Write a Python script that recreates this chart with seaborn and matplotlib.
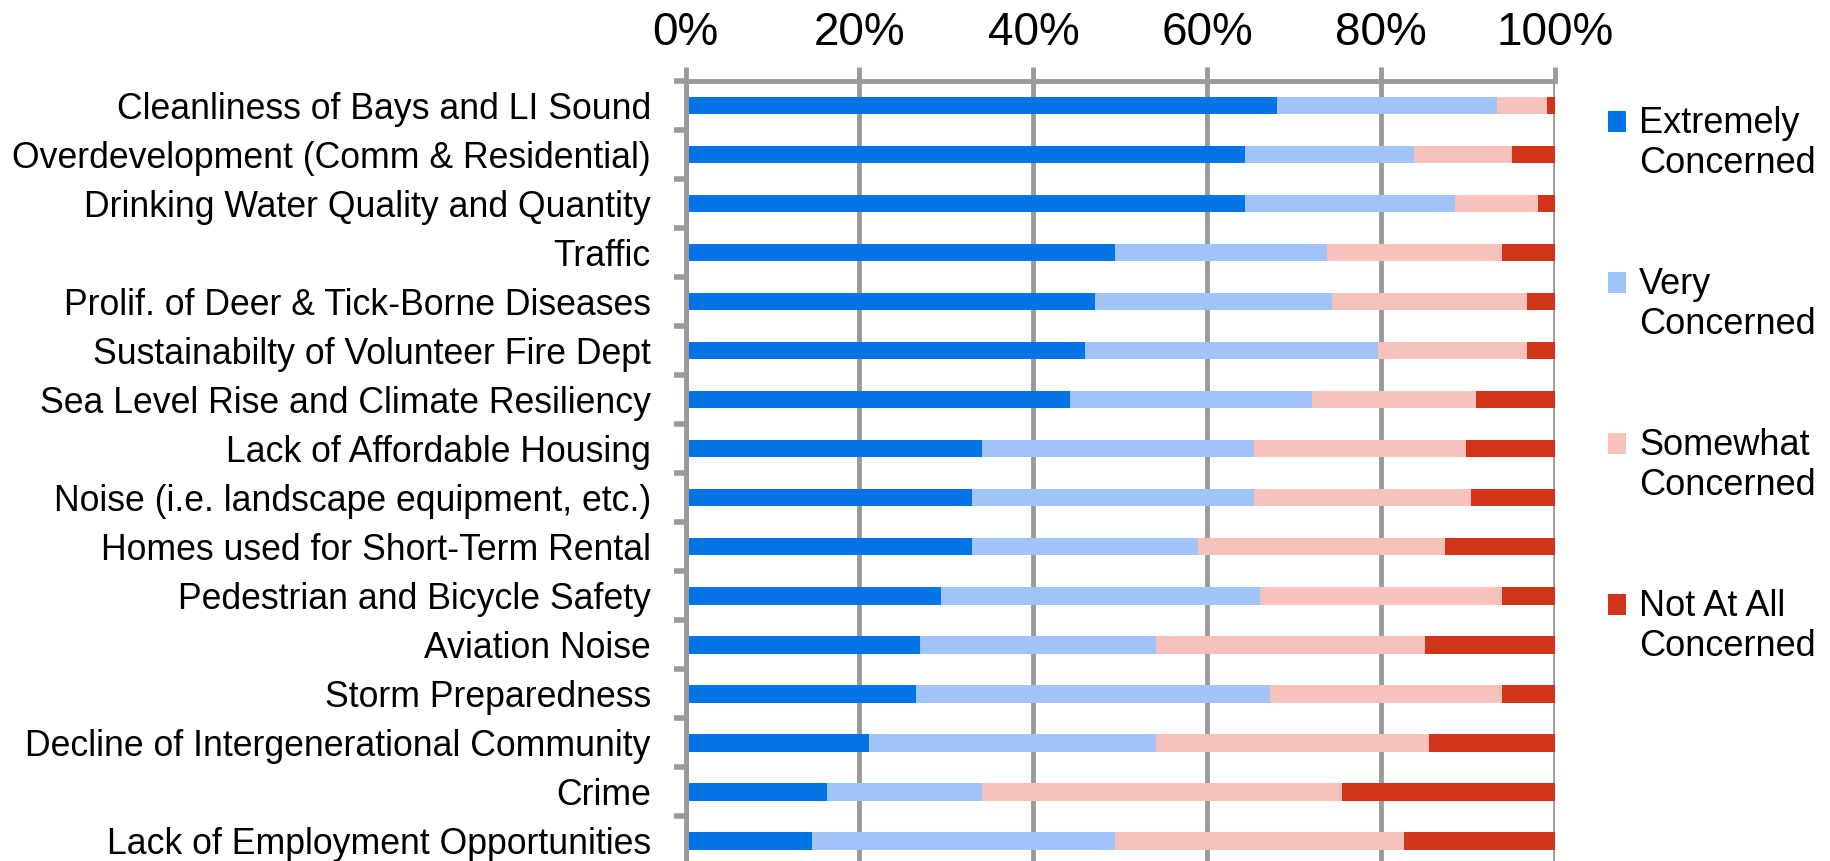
import matplotlib
matplotlib.use("Agg")
import matplotlib.pyplot as plt
import seaborn as sns
import pandas as pd
from matplotlib.patches import Patch
from matplotlib.ticker import FixedLocator

categories = [
    "Cleanliness of Bays and LI Sound",
    "Overdevelopment (Comm & Residential)",
    "Drinking Water Quality and Quantity",
    "Traffic",
    "Prolif. of Deer & Tick-Borne Diseases",
    "Sustainabilty of Volunteer Fire Dept",
    "Sea Level Rise and Climate Resiliency",
    "Lack of Affordable Housing",
    "Noise (i.e. landscape equipment, etc.)",
    "Homes used for Short-Term Rental",
    "Pedestrian and Bicycle Safety",
    "Aviation Noise",
    "Storm Preparedness",
    "Decline of Intergenerational Community",
    "Crime",
    "Lack of Employment Opportunities",
]
extremely = [68.0, 64.3, 64.3, 49.4, 47.1, 45.9, 44.2, 34.1, 32.9, 32.9, 29.4, 27.0, 26.5, 21.1, 16.3, 14.5]
very = [25.3, 19.5, 24.2, 24.3, 27.2, 33.7, 27.8, 31.3, 32.5, 26.0, 36.6, 27.1, 40.7, 33.0, 17.8, 34.9]
somewhat = [5.8, 11.2, 9.5, 20.2, 22.5, 17.2, 18.9, 24.3, 24.9, 28.4, 27.9, 30.9, 26.7, 31.4, 41.4, 33.2]
not_at_all = [0.9, 5.0, 2.0, 6.1, 3.2, 3.2, 9.1, 10.3, 9.7, 12.7, 6.1, 15.0, 6.1, 14.5, 24.5, 17.4]

series_names = ["Extremely\nConcerned", "Very\nConcerned", "Somewhat\nConcerned", "Not At All\nConcerned"]
series_colors = ["#0474E4", "#A0C4F8", "#F8C2BC", "#D0351A"]
x_ticks = [0, 20, 40, 60, 80, 100]
x_tick_labels = ["0%", "20%", "40%", "60%", "80%", "100%"]

df = pd.DataFrame({
    "category": categories,
    "s1": extremely,
    "s2": very,
    "s3": somewhat,
    "s4": not_at_all,
})
df["c1"] = df["s1"]
df["c2"] = df["c1"] + df["s2"]
df["c3"] = df["c2"] + df["s3"]
df["c4"] = df["c3"] + df["s4"]

sns.set_style("white")
plt.rcParams["font.family"] = ["Liberation Sans", "DejaVu Sans"]
plt.rcParams["text.color"] = "black"
plt.rcParams["xtick.labelcolor"] = "black"
plt.rcParams["ytick.labelcolor"] = "black"

fig = plt.figure(figsize=(18.31, 8.61), dpi=100)
ax = fig.add_axes([0.3744, -0.005, 0.475, 0.911])

for col, color in zip(["c4", "c3", "c2", "c1"], series_colors[::-1]):
    sns.barplot(data=df, x=col, y="category", orient="h", color=color,
                width=0.36, linewidth=0, ax=ax, saturation=1, errorbar=None)

grey = "#9a9a9a"
ax.set_xlim(0, 100)
ax.set_ylim(len(categories) - 0.5, -0.5)
ax.xaxis.set_major_locator(FixedLocator(x_ticks))
ax.set_xticklabels(x_tick_labels)
ax.xaxis.tick_top()
ax.tick_params(axis="x", which="major", length=10, width=3.5, color=grey,
               labelsize=33, pad=9, top=True, bottom=False, labelcolor="black")
ax.set_xlabel("")
ax.set_ylabel("")
ax.grid(axis="x", color=grey, linewidth=3.5)
ax.grid(axis="y", visible=False)
ax.set_axisbelow(True)

ax.tick_params(axis="y", which="major", length=0, labelsize=25.7, pad=25, labelcolor="black")
ax.yaxis.set_minor_locator(FixedLocator([i - 0.5 for i in range(len(categories) + 1)]))
ax.tick_params(axis="y", which="minor", length=9, width=4, color=grey, left=True)

for side in ["right", "bottom"]:
    ax.spines[side].set_visible(False)
for side in ["top", "left"]:
    ax.spines[side].set_visible(True)
    ax.spines[side].set_color(grey)
    ax.spines[side].set_linewidth(3.5)

legend_fs = 26
handles = [Patch(facecolor=c, edgecolor="none") for c in series_colors]
leg = fig.legend(handles, series_names, loc="upper left", bbox_to_anchor=(0.8705, 0.894),
                 frameon=False, fontsize=legend_fs, handlelength=0.5, handleheight=0.5,
                 handletextpad=0.35, labelspacing=2.37, borderaxespad=0)
for h in leg.legend_handles:
    h.set_y(h.get_y() + 0.62 * legend_fs)

fig.savefig("out.png", dpi=100)
